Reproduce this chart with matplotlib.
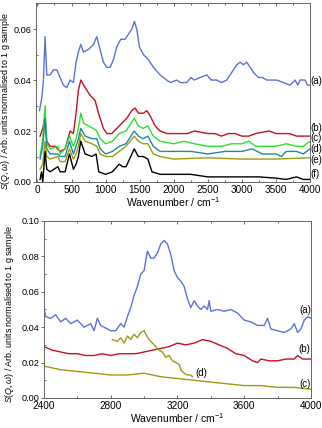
import matplotlib
matplotlib.use("Agg")
import matplotlib.pyplot as plt
from matplotlib.ticker import MultipleLocator, FormatStrFormatter

plt.rcParams['font.family'] = ['Liberation Sans', 'DejaVu Sans']
plt.rcParams['mathtext.fontset'] = 'custom'
plt.rcParams['mathtext.rm'] = 'Liberation Sans'
plt.rcParams['mathtext.it'] = 'Liberation Sans:italic'

# ---------------- top panel data (wavenumber / cm-1, S(Q,w)) ----------------
a_x = [30, 64, 88, 112, 137, 186, 235, 284, 333, 381, 430, 479, 528, 567, 601, 636, 675, 748, 822, 870,
       919, 968, 1017, 1066, 1115, 1164, 1222, 1286, 1335, 1384, 1423, 1457, 1496, 1555, 1628, 1702, 1800,
       1897, 1950, 2044, 2100, 2191, 2250, 2300, 2386, 2484, 2550, 2631, 2700, 2778, 2875, 2924, 2973, 3022,
       3071, 3120, 3169, 3242, 3300, 3364, 3450, 3511, 3609, 3707, 3780, 3820, 3853, 3927, 3960, 4000]
a_y = [0.028, 0.033, 0.040, 0.057, 0.042, 0.042, 0.044, 0.044, 0.041, 0.038, 0.037, 0.040, 0.039, 0.047,
       0.051, 0.054, 0.051, 0.052, 0.054, 0.057, 0.052, 0.047, 0.045, 0.045, 0.048, 0.053, 0.056, 0.056,
       0.058, 0.060, 0.063, 0.060, 0.053, 0.050, 0.048, 0.045, 0.042, 0.040, 0.039, 0.040, 0.039, 0.039,
       0.041, 0.040, 0.041, 0.042, 0.040, 0.040, 0.039, 0.040, 0.044, 0.046, 0.047, 0.046, 0.047, 0.045,
       0.043, 0.041, 0.041, 0.040, 0.040, 0.040, 0.039, 0.038, 0.040, 0.038, 0.040, 0.040, 0.038, 0.038]

b_x = [39, 78, 112, 137, 186, 260, 333, 406, 479, 528, 567, 601, 636, 700, 773, 846, 895, 968, 1017, 1090,
       1164, 1237, 1310, 1384, 1433, 1481, 1555, 1604, 1653, 1726, 1800, 1900, 2000, 2200, 2300, 2500,
       2600, 2700, 2800, 2900, 3000, 3100, 3200, 3400, 3500, 3700, 3800, 4000]
b_y = [0.018, 0.021, 0.026, 0.016, 0.014, 0.014, 0.012, 0.013, 0.020, 0.019, 0.027, 0.036, 0.040, 0.037,
       0.034, 0.032, 0.027, 0.021, 0.019, 0.019, 0.021, 0.023, 0.025, 0.028, 0.029, 0.027, 0.027, 0.028,
       0.026, 0.022, 0.020, 0.019, 0.019, 0.019, 0.020, 0.019, 0.019, 0.018, 0.019, 0.019, 0.018, 0.018,
       0.019, 0.020, 0.019, 0.019, 0.018, 0.018]

c_x = [39, 78, 112, 137, 186, 300, 333, 406, 470, 528, 567, 601, 636, 680, 750, 820, 870, 920, 1000, 1100,
       1200, 1300, 1420, 1480, 1550, 1620, 1700, 1800, 2000, 2150, 2300, 2500, 2700, 2850, 3000, 3100,
       3200, 3350, 3500, 3650, 3800, 3900, 4000]
c_y = [0.010, 0.017, 0.030, 0.015, 0.013, 0.014, 0.011, 0.013, 0.018, 0.014, 0.017, 0.021, 0.027, 0.023,
       0.022, 0.021, 0.020, 0.017, 0.015, 0.016, 0.019, 0.020, 0.025, 0.022, 0.021, 0.022, 0.018, 0.016,
       0.015, 0.016, 0.015, 0.014, 0.014, 0.015, 0.015, 0.016, 0.014, 0.014, 0.014, 0.015, 0.014, 0.014,
       0.016]

d_x = [39, 78, 112, 137, 186, 300, 333, 406, 470, 528, 567, 601, 636, 700, 800, 870, 920, 1000, 1100,
       1200, 1300, 1420, 1480, 1550, 1620, 1700, 1800, 2000, 2250, 2500, 2750, 3000, 3150, 3300, 3500,
       3580, 3650, 3800, 3900, 4000]
d_y = [0.009, 0.014, 0.025, 0.013, 0.011, 0.011, 0.010, 0.010, 0.016, 0.011, 0.014, 0.017, 0.021, 0.018,
       0.017, 0.017, 0.013, 0.011, 0.012, 0.014, 0.015, 0.020, 0.018, 0.017, 0.018, 0.014, 0.012, 0.012,
       0.012, 0.011, 0.012, 0.012, 0.013, 0.011, 0.011, 0.010, 0.012, 0.012, 0.011, 0.013]

e_x = [39, 78, 112, 137, 186, 300, 333, 406, 470, 528, 567, 601, 636, 700, 800, 870, 920, 1000, 1100,
       1200, 1300, 1420, 1480, 1550, 1620, 1700, 1800, 2000, 2500, 3000, 3500, 4000]
e_y = [0.005, 0.007, 0.016, 0.010, 0.009, 0.010, 0.008, 0.008, 0.013, 0.009, 0.011, 0.014, 0.019, 0.016,
       0.015, 0.014, 0.011, 0.010, 0.010, 0.012, 0.014, 0.018, 0.016, 0.015, 0.015, 0.011, 0.010, 0.009,
       0.0095, 0.009, 0.009, 0.0095]

f_x = [39, 60, 78, 112, 137, 186, 300, 333, 406, 470, 528, 567, 601, 636, 700, 800, 860, 900, 1000,
       1100, 1200, 1250, 1300, 1420, 1480, 1550, 1620, 1680, 1800, 2000, 2250, 2500, 2750, 3000, 3250,
       3500, 3650, 3800, 3900, 4000]
f_y = [0.001, 0.004, 0.000, 0.012, 0.005, 0.004, 0.006, 0.004, 0.004, 0.011, 0.005, 0.007, 0.010, 0.016,
       0.011, 0.010, 0.011, 0.004, 0.003, 0.004, 0.007, 0.006, 0.006, 0.013, 0.010, 0.010, 0.009, 0.004,
       0.003, 0.003, 0.003, 0.002, 0.002, 0.002, 0.002, 0.0015, 0.001, 0.002, 0.001, 0.001]

top_labels = ['(a)', '(b)', '(c)', '(d)', '(e)', '(f)']
top_label_y = [0.0397, 0.0213, 0.0171, 0.0129, 0.0085, 0.0032]

# ---------------- bottom panel data ----------------
ba_x = [2400, 2410, 2440, 2470, 2500, 2530, 2560, 2600, 2640, 2680, 2700, 2720, 2740, 2780, 2800, 2830,
        2860, 2880, 2900, 2920, 2940, 2960, 2980, 3000, 3020, 3040, 3060, 3080, 3100, 3120, 3140, 3160,
        3180, 3200, 3220, 3240, 3260, 3280, 3300, 3320, 3340, 3360, 3380, 3390, 3400, 3440, 3480, 3520,
        3560, 3600, 3640, 3680, 3720, 3740, 3760, 3800, 3840, 3880, 3900, 3920, 3940, 3960, 3980, 4000]
ba_y = [0.051, 0.046, 0.045, 0.047, 0.043, 0.045, 0.042, 0.044, 0.040, 0.042, 0.038, 0.045, 0.041, 0.039,
        0.038, 0.038, 0.042, 0.040, 0.046, 0.051, 0.058, 0.063, 0.070, 0.072, 0.083, 0.079, 0.079, 0.082,
        0.087, 0.089, 0.087, 0.081, 0.072, 0.068, 0.066, 0.063, 0.056, 0.051, 0.055, 0.052, 0.050, 0.052,
        0.050, 0.055, 0.049, 0.050, 0.049, 0.050, 0.048, 0.044, 0.043, 0.041, 0.041, 0.045, 0.039, 0.038,
        0.037, 0.039, 0.042, 0.037, 0.039, 0.044, 0.046, 0.045]

bb_x = [2400, 2450, 2500, 2550, 2600, 2650, 2700, 2750, 2800, 2850, 2900, 2950, 3000, 3050, 3100, 3150,
        3200, 3250, 3300, 3350, 3400, 3450, 3500, 3550, 3600, 3650, 3680, 3700, 3750, 3800, 3850, 3900,
        3920, 3950, 4000]
bb_y = [0.029, 0.027, 0.026, 0.025, 0.025, 0.024, 0.024, 0.025, 0.024, 0.025, 0.025, 0.025, 0.026, 0.027,
        0.028, 0.029, 0.031, 0.030, 0.031, 0.033, 0.032, 0.030, 0.028, 0.025, 0.024, 0.021, 0.020, 0.022,
        0.021, 0.021, 0.022, 0.022, 0.024, 0.022, 0.022]

bc_x = [2400, 2500, 2600, 2700, 2800, 2900, 3000, 3100, 3200, 3300, 3400, 3500, 3600, 3700, 3800, 3900, 4000]
bc_y = [0.018, 0.016, 0.015, 0.014, 0.013, 0.013, 0.014, 0.012, 0.011, 0.010, 0.009, 0.008, 0.007, 0.007,
        0.006, 0.006, 0.005]

bd_x = [2810, 2840, 2860, 2880, 2900, 2920, 2940, 2960, 2980, 3000, 3010, 3030, 3050, 3070, 3090, 3110,
        3130, 3150, 3170, 3190, 3210, 3220, 3240, 3260, 3280, 3290]
bd_y = [0.033, 0.032, 0.034, 0.031, 0.035, 0.033, 0.036, 0.034, 0.037, 0.038, 0.036, 0.033, 0.031, 0.029,
        0.027, 0.026, 0.023, 0.024, 0.021, 0.020, 0.019, 0.016, 0.014, 0.013, 0.013, 0.012]

bottom_labels = ['(a)', '(b)', '(c)', '(d)']
bottom_label_x = [3965, 3960, 3965, 3305]
bottom_label_y = [0.0495, 0.0275, 0.0078, 0.0140]

col_blue = '#5b72dc'
col_red = '#c8101e'
col_green = '#2ee02e'
col_teal = '#1a8c9c'
col_olive = '#a09a12'
col_black = '#000000'

fig = plt.figure(figsize=(3.22, 4.28), dpi=100)
ax1 = fig.add_axes([0.112, 0.5748, 0.851, 0.418])
ax2 = fig.add_axes([0.1366, 0.0701, 0.829, 0.4136])

lw = 1.0
for xs, ys, c in [(a_x, a_y, col_blue), (b_x, b_y, col_red), (c_x, c_y, col_green),
                  (d_x, d_y, col_teal), (e_x, e_y, col_olive), (f_x, f_y, col_black)]:
    ax1.plot(xs, ys, color=c, lw=lw)

for lab, yv in zip(top_labels, top_label_y):
    ax1.text(1.0, yv, lab, transform=ax1.get_yaxis_transform(), ha='left', va='center',
             fontsize=7, clip_on=False)

for xs, ys, c in [(ba_x, ba_y, col_blue), (bb_x, bb_y, col_red), (bc_x, bc_y, col_olive),
                  (bd_x, bd_y, col_olive)]:
    ax2.plot(xs, ys, color=c, lw=lw)

for lab, xv, yv in zip(bottom_labels, bottom_label_x, bottom_label_y):
    ax2.text(xv, yv, lab, ha='left' if lab == '(d)' else 'center', va='center', fontsize=7)

ylab = r'$S(Q,\omega)$ / Arb. units normalised to 1 g sample'
xlab = r'Wavenumber / cm$^{-1}$'

ax1.set_xlim(-20, 4000)
ax1.set_ylim(0, 0.0702)
ax1.xaxis.set_major_locator(MultipleLocator(500))
ax1.xaxis.set_minor_locator(MultipleLocator(250))
ax1.yaxis.set_major_locator(MultipleLocator(0.02))
ax1.yaxis.set_minor_locator(MultipleLocator(0.01))

ax2.set_xlim(2400, 4000)
ax2.set_ylim(0, 0.10)
ax2.xaxis.set_major_locator(MultipleLocator(400))
ax2.xaxis.set_minor_locator(MultipleLocator(200))
ax2.yaxis.set_major_locator(MultipleLocator(0.02))
ax2.yaxis.set_minor_locator(MultipleLocator(0.01))

for ax in (ax1, ax2):
    ax.yaxis.set_major_formatter(FormatStrFormatter('%.2f'))
    ax.set_xlabel(xlab, fontsize=7.5, labelpad=0.0)
    ax.set_ylabel(ylab, fontsize=6.4)
    ax.tick_params(axis='both', which='major', labelsize=7.2, length=2.5, width=0.6,
                   color='#555555')
    ax.tick_params(axis='both', which='minor', length=1.5, width=0.6, color='#555555')
    ax.tick_params(axis='x', which='both', direction='in', top=True)
    ax.tick_params(axis='x', which='major', pad=2.5)
    ax.tick_params(axis='y', which='major', direction='out', pad=1.0, labelsize=6.6)
    ax.tick_params(axis='y', which='minor', direction='in')
    for s in ax.spines.values():
        s.set_color('#666666')
        s.set_linewidth(0.7)

ax1.yaxis.set_label_coords(-0.0865, 0.45)
ax2.yaxis.set_label_coords(-0.105, 0.475)

fig.savefig('out.png', dpi=100)
